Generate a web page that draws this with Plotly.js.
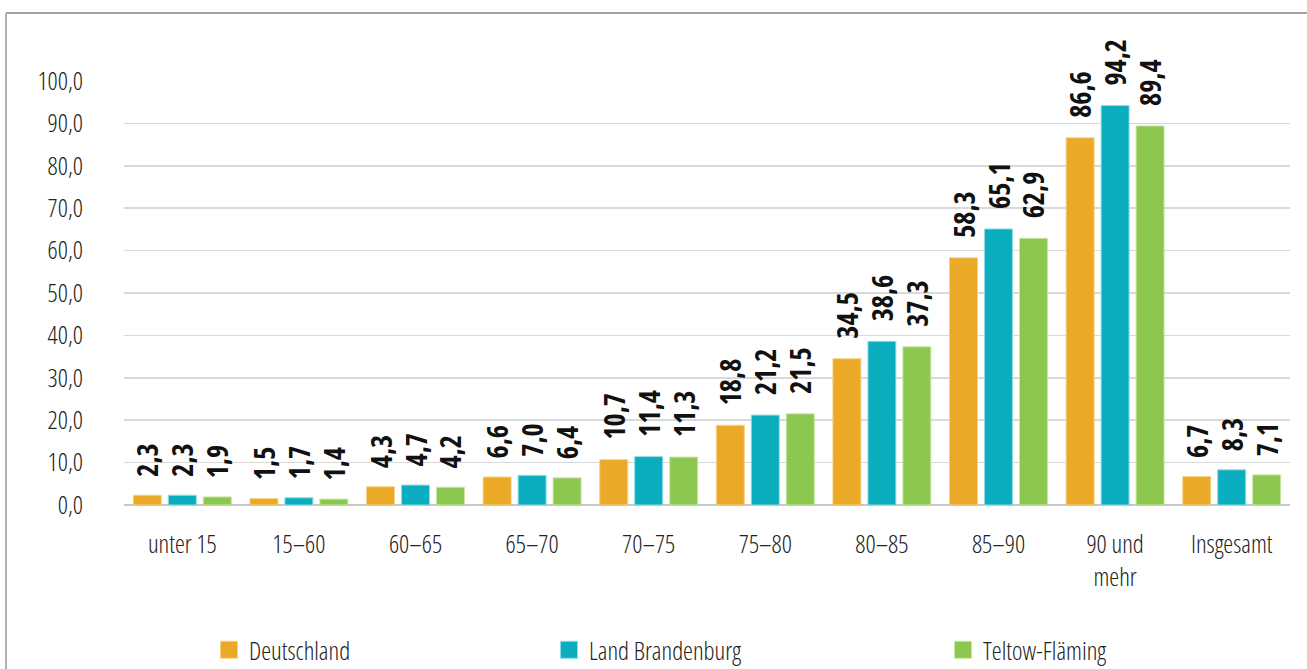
<!DOCTYPE html>
<html>
<head>
<meta charset="utf-8">
<script src="https://cdn.plot.ly/plotly-3.0.1.min.js"></script>
<style>
  html, body { margin: 0; padding: 0; background: #fff; }
  #chart { width: 1307px; height: 669px; }
  #chart text { font-stretch: 75%; }
  #chart text.bartext { font-stretch: 87.5%; }
</style>
</head>
<body>
<div id="chart"></div>
<script>
const categories = ["unter 15", "15\u201360", "60\u201365", "65\u201370", "70\u201375", "75\u201380", "80\u201385", "85\u201390", "90 und<br>mehr", "Insgesamt"];
const seriesNames = ["Deutschland", "Land Brandenburg", "Teltow-Fläming"];
const deutschland = [2.3, 1.5, 4.3, 6.6, 10.7, 18.8, 34.5, 58.3, 86.6, 6.7];
const brandenburg = [2.3, 1.7, 4.7, 7.0, 11.4, 21.2, 38.6, 65.1, 94.2, 8.3];
const teltow = [1.9, 1.4, 4.2, 6.4, 11.3, 21.5, 37.3, 62.9, 89.4, 7.1];
const yTicks = [0, 10, 20, 30, 40, 50, 60, 70, 80, 90, 100];

const colors = ["#EAA926", "#0AADBD", "#8CC84F"];
const lineColors = ["#F5D08A", "#8FDCE4", "#C8E6A6"];
const FONT = "'Open Sans', Roboto, sans-serif";

const values = [deutschland, brandenburg, teltow];
const legends = ["legend", "legend2", "legend3"];
const traces = values.map((v, i) => ({
  type: "bar",
  name: seriesNames[i],
  x: categories,
  y: v,
  marker: { color: colors[i], line: { color: lineColors[i], width: 1 } },
  texttemplate: "\u00A0\u00A0%{y:.1f}",
  textposition: "outside",
  textangle: -90,
  constraintext: "none",
  cliponaxis: false,
  textfont: { family: FONT, size: 28, color: "#111", weight: "bold" },
  hoverinfo: "skip",
  legend: legends[i]
}));

const plotL = 124, plotR = 1290, plotT = 81, plotB = 505;
const W = 1307, H = 669;
const px = x => (x - plotL) / (plotR - plotL);
const py = y => (plotB - y) / (plotB - plotT);

const legendBase = {
  orientation: "h",
  yanchor: "middle",
  xanchor: "left",
  y: py(650),
  font: { family: FONT, size: 25, color: "#222", weight: 350 },
  bgcolor: "rgba(0,0,0,0)",
  itemclick: false
};

const tickFont = { family: FONT, size: 25, color: "#222", weight: 350 };

const layout = {
  width: W,
  height: H,
  margin: { l: plotL, r: W - plotR, t: plotT, b: H - plotB, autoexpand: false },
  paper_bgcolor: "#fff",
  plot_bgcolor: "#fff",
  separators: ",.",
  barmode: "group",
  bargap: 0.1,
  bargroupgap: 0.2,
  showlegend: true,
  font: { family: FONT, size: 25, color: "#222" },
  xaxis: {
    type: "category",
    tickfont: tickFont,
    ticks: "",
    showline: false,
    showgrid: false,
    ticklabelstandoff: 22,
    automargin: false,
    fixedrange: true
  },
  yaxis: {
    range: [0, 100],
    tickvals: yTicks,
    tickformat: ".1f",
    tickfont: tickFont,
    showgrid: true,
    gridcolor: "#D9D9D9",
    gridwidth: 1.5,
    zeroline: true,
    zerolinecolor: "#C8C8C8",
    zerolinewidth: 2,
    ticks: "",
    ticklabelstandoff: 40,
    automargin: false,
    fixedrange: true
  },
  legend: Object.assign({}, legendBase, { x: px(209) }),
  legend2: Object.assign({}, legendBase, { x: px(549) }),
  legend3: Object.assign({}, legendBase, { x: px(943) }),
  shapes: [
    { type: "line", xref: "paper", yref: "paper", x0: px(6), x1: px(1320), y0: py(13), y1: py(13), line: { color: "#A89E9B", width: 2 } },
    { type: "line", xref: "paper", yref: "paper", x0: px(6), x1: px(6), y0: py(13), y1: py(680), line: { color: "#B8AEAB", width: 2 } }
  ]
};

Plotly.newPlot("chart", traces, layout, { displayModeBar: false, staticPlot: true }).then(() => {
  document.querySelectorAll("#chart .legendpoints path").forEach(p => p.setAttribute("d", "M8.5,8.5H-8.5V-8.5H8.5Z"));
});
</script>
</body>
</html>
